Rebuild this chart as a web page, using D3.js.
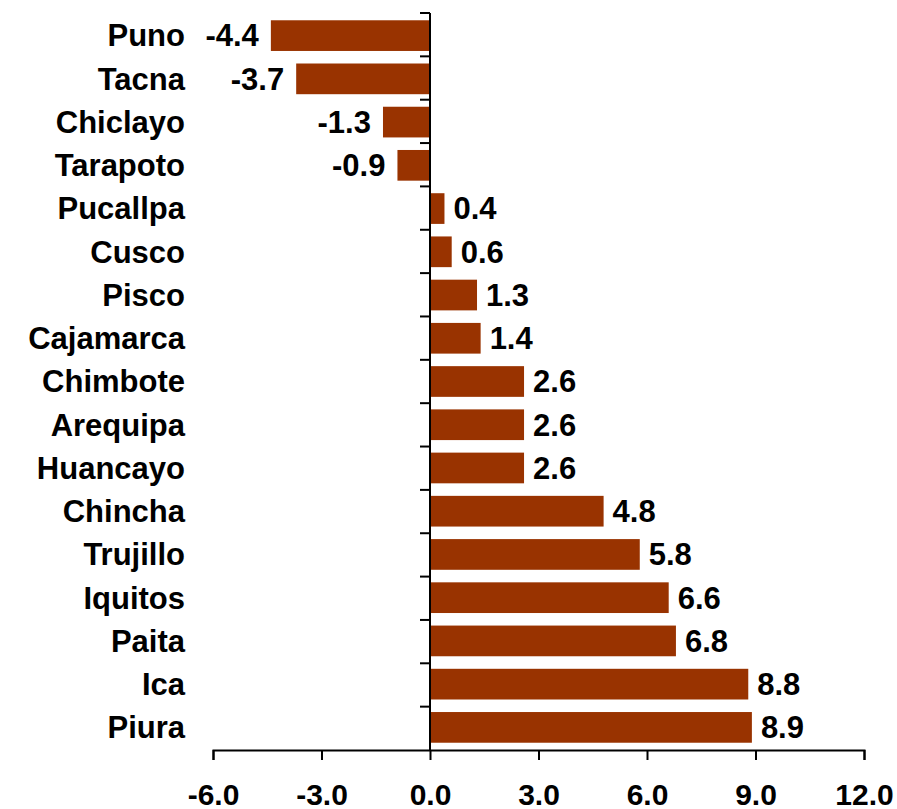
<!DOCTYPE html>
<html>
<head>
<meta charset="utf-8">
<script src="https://cdn.jsdelivr.net/npm/d3@7/dist/d3.min.js"></script>
<style>
  html, body { margin: 0; padding: 0; background: #fff; }
  svg text { font-family: "Liberation Sans", Arial, sans-serif; font-weight: bold; fill: #000; }
</style>
</head>
<body>
<svg id="chart" width="897" height="809"></svg>
<script>
const categories = ["Puno","Tacna","Chiclayo","Tarapoto","Pucallpa","Cusco","Pisco","Cajamarca","Chimbote","Arequipa","Huancayo","Chincha","Trujillo","Iquitos","Paita","Ica","Piura"];
const values = [-4.4,-3.7,-1.3,-0.9,0.4,0.6,1.3,1.4,2.6,2.6,2.6,4.8,5.8,6.6,6.8,8.8,8.9];
const xTicks = [-6,-3,0,3,6,9,12];

const data = categories.map((c, i) => ({ name: c, value: values[i] }));
const svg = d3.select("#chart");
const fmt = v => d3.format(".1f")(v).replace("\u2212", "-");

const x = d3.scaleLinear().domain([-6, 12]).range([213, 864]);
const y = d3.scaleBand().domain(categories).range([14, 749]).paddingInner(0.29).paddingOuter(0.145);
const bandY = d3.scaleBand().domain(categories).range([13, 750]).padding(0);

// bars
svg.append("g").selectAll("rect").data(data).join("rect")
  .attr("x", d => x(Math.min(0, d.value)))
  .attr("y", d => y(d.name))
  .attr("width", d => Math.abs(x(d.value) - x(0)))
  .attr("height", y.bandwidth())
  .attr("fill", "#993300");

// x axis
const xAxis = d3.axisBottom(x).tickValues(xTicks).tickFormat(fmt).tickSize(10).tickSizeOuter(10).tickPadding(16);
const gx = svg.append("g").attr("transform", "translate(0,750)").call(xAxis);
gx.select(".domain").attr("stroke", "#000").attr("stroke-width", 2);
gx.selectAll(".tick line").attr("stroke", "#000").attr("stroke-width", 2);
gx.selectAll(".tick text").attr("font-size", 30).attr("font-family", "Liberation Sans, Arial, sans-serif").attr("font-weight", "bold").attr("fill", "#000").attr("dy", "0.95em");

// y axis line at zero with ticks at band boundaries
const boundaries = categories.map(c => bandY(c));
svg.append("line").attr("x1", x(0)).attr("x2", x(0)).attr("y1", 13).attr("y2", 750)
  .attr("stroke", "#000").attr("stroke-width", 2);
svg.append("g").selectAll("line").data(boundaries).join("line")
  .attr("x1", x(0) - 10).attr("x2", x(0))
  .attr("y1", d => d).attr("y2", d => d)
  .attr("stroke", "#000").attr("stroke-width", 2);

// category labels
svg.append("g").selectAll("text").data(data).join("text")
  .attr("x", 185)
  .attr("y", d => y(d.name) + y.bandwidth() / 2)
  .attr("dy", "0.35em")
  .attr("text-anchor", "end")
  .attr("font-size", 31)
  .text(d => d.name);

// value labels
svg.append("g").selectAll("text").data(data).join("text")
  .attr("x", d => d.value >= 0 ? x(d.value) + 9 : x(d.value) - 12)
  .attr("y", d => y(d.name) + y.bandwidth() / 2)
  .attr("dy", "0.35em")
  .attr("text-anchor", d => d.value >= 0 ? "start" : "end")
  .attr("font-size", 31)
  .text(d => fmt(d.value));
</script>
</body>
</html>
